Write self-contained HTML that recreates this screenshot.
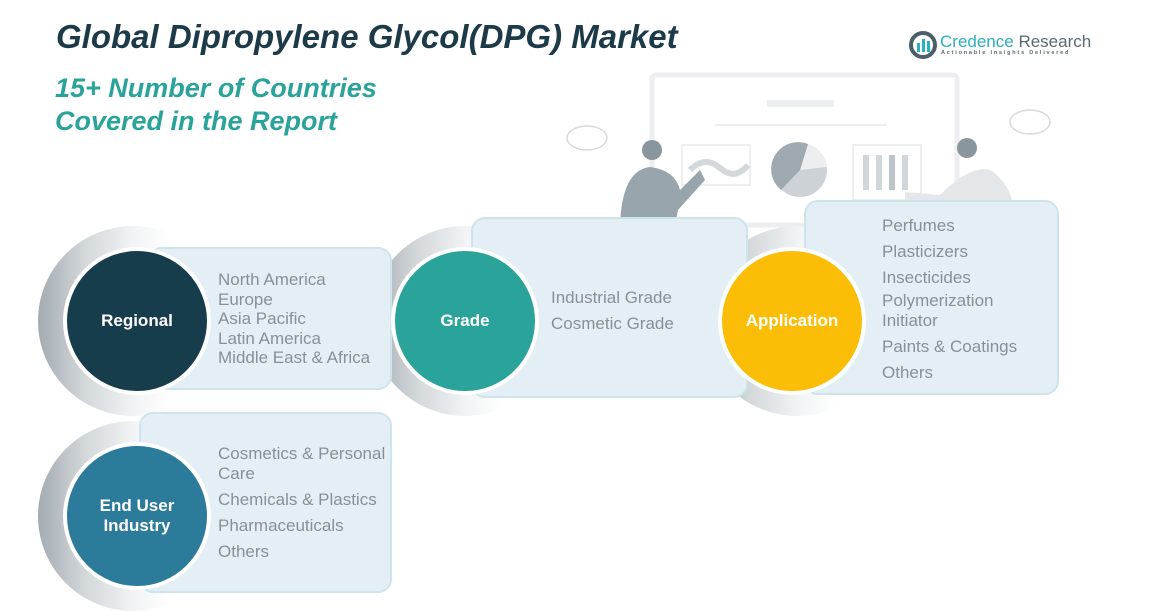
<!DOCTYPE html>
<html><head><meta charset="utf-8"><style>
body{margin:0;width:1173px;height:607px;background:#fff;position:relative;overflow:hidden;font-family:"Liberation Sans",sans-serif}
.t{position:absolute;font-style:italic;font-weight:bold}
.box{position:absolute;background:#e3eff5;border:2px solid #cfe3ec;border-radius:14px}
.ring{position:absolute;border-radius:50%;background:linear-gradient(90deg,#a3abb1 0%,#d3d8db 25%,#f1f3f4 50%,#fff 70%)}
.c{position:absolute;border-radius:50%;border:4px solid #fff;color:#fff;font-weight:bold;font-size:17px;display:flex;align-items:center;justify-content:center;text-align:center;line-height:20px}
.l{position:absolute;color:#8a8f93;font-size:17px;line-height:19.5px}
</style></head><body>
<div class="t" style="left:56px;top:18px;font-size:33px;color:#1c3a48">Global Dipropylene Glycol(DPG) Market</div>
<div class="t" style="left:55px;top:72px;font-size:27px;color:#2aa39a;line-height:33px">15+ Number of Countries<br>Covered in the Report</div>
<svg style="position:absolute;left:908px;top:30px" width="30" height="30"><circle cx="15" cy="15" r="12" fill="none" stroke="#4b5f6b" stroke-width="4"/><rect x="9" y="13" width="3" height="9" fill="#2ab0c0"/><rect x="14" y="9" width="3" height="13" fill="#2ab0c0"/><rect x="19" y="11" width="3" height="11" fill="#2ab0c0"/></svg>
<div style="position:absolute;left:940px;top:32px;font-size:17px;color:#2ab0c0">Credence <span style="color:#5a6a72">Research</span></div>
<div style="position:absolute;left:941px;top:50px;font-size:5.5px;letter-spacing:1.8px;color:#5a6a72;font-weight:bold">Actionable Insights Delivered</div>
<svg style="position:absolute;left:560px;top:70px" width="540" height="160">
<rect x="92" y="5" width="305" height="150" fill="none" stroke="#eceef0" stroke-width="5" rx="4"/>
<rect x="207" y="30" width="67" height="7" fill="#eceeef"/><line x1="155" y1="55" x2="327" y2="55" stroke="#eceef0" stroke-width="2"/>
<rect x="122" y="75" width="68" height="40" fill="none" stroke="#eceef0" stroke-width="2"/>
<path d="M130 100 Q145 85 160 98 T188 95" stroke="#d3d8db" stroke-width="6" fill="none"/>
<circle cx="240" cy="100" r="27" fill="#ccd2d6"/><path d="M240 100 L248 74 A27 27 0 0 1 267 97Z" fill="#eceef0"/><path d="M240 100 L248 74 A27 27 0 0 0 221 120Z" fill="#9ea9b0"/>
<rect x="293" y="75" width="68" height="55" fill="none" stroke="#eceef0" stroke-width="2"/>
<rect x="303" y="85" width="6" height="35" fill="#d0d6da"/><rect x="316" y="85" width="6" height="35" fill="#d0d6da"/><rect x="329" y="85" width="6" height="35" fill="#bcc5ca"/><rect x="342" y="85" width="6" height="35" fill="#d0d6da"/>
<ellipse cx="27" cy="68" rx="20" ry="12" fill="none" stroke="#d6dadd" stroke-width="1.5"/>
<ellipse cx="470" cy="52" rx="20" ry="12" fill="none" stroke="#d6dadd" stroke-width="1.5"/>
<circle cx="92" cy="80" r="10" fill="#8a969e"/><path d="M60 155 Q62 100 90 97 Q115 100 120 120 L140 100 L145 110 L118 140 L115 155Z" fill="#99a5ac"/>
<circle cx="407" cy="78" r="10" fill="#8a969e"/><path d="M380 125 Q410 95 430 100 Q455 115 455 155 L385 155 L385 130 L345 130 L345 122Z" fill="#e4e7e9"/>
</svg>
<div class="ring" style="left:38px;top:226px;width:190px;height:190px"></div>
<div class="ring" style="left:370px;top:226px;width:190px;height:190px"></div>
<div class="ring" style="left:702px;top:226px;width:190px;height:190px"></div>
<div class="ring" style="left:38px;top:421px;width:190px;height:190px"></div>
<div class="box" style="left:148px;top:247px;width:240px;height:139px"></div>
<div class="box" style="left:471px;top:217px;width:273px;height:177px"></div>
<div class="box" style="left:804px;top:200px;width:251px;height:191px"></div>
<div class="box" style="left:139px;top:412px;width:249px;height:177px"></div>
<div class="c" style="left:63px;top:247px;width:140px;height:140px;background:#173d4c">Regional</div>
<div class="c" style="left:391px;top:247px;width:140px;height:140px;background:#2aa39a">Grade</div>
<div class="c" style="left:718px;top:247px;width:140px;height:140px;background:#fbbd06">Application</div>
<div class="c" style="left:63px;top:442px;width:140px;height:140px;background:#2d7b9a">End User<br>Industry</div>
<div class="l" style="left:218px;top:270px">North America<br>Europe<br>Asia Pacific<br>Latin America<br>Middle East &amp; Africa</div>
<div class="l" style="left:551px;top:285px;line-height:26px">Industrial Grade<br>Cosmetic Grade</div>
<div class="l" style="left:882px;top:213px;line-height:26px">Perfumes<br>Plasticizers<br>Insecticides<br><span style="line-height:19.5px;display:inline-block">Polymerization<br>Initiator</span><br>Paints &amp; Coatings<br>Others</div>
<div class="l" style="left:218px;top:444px;line-height:26px"><span style="line-height:19.5px;display:inline-block">Cosmetics &amp; Personal<br>Care</span><br>Chemicals &amp; Plastics<br>Pharmaceuticals<br>Others</div>
</body></html>
